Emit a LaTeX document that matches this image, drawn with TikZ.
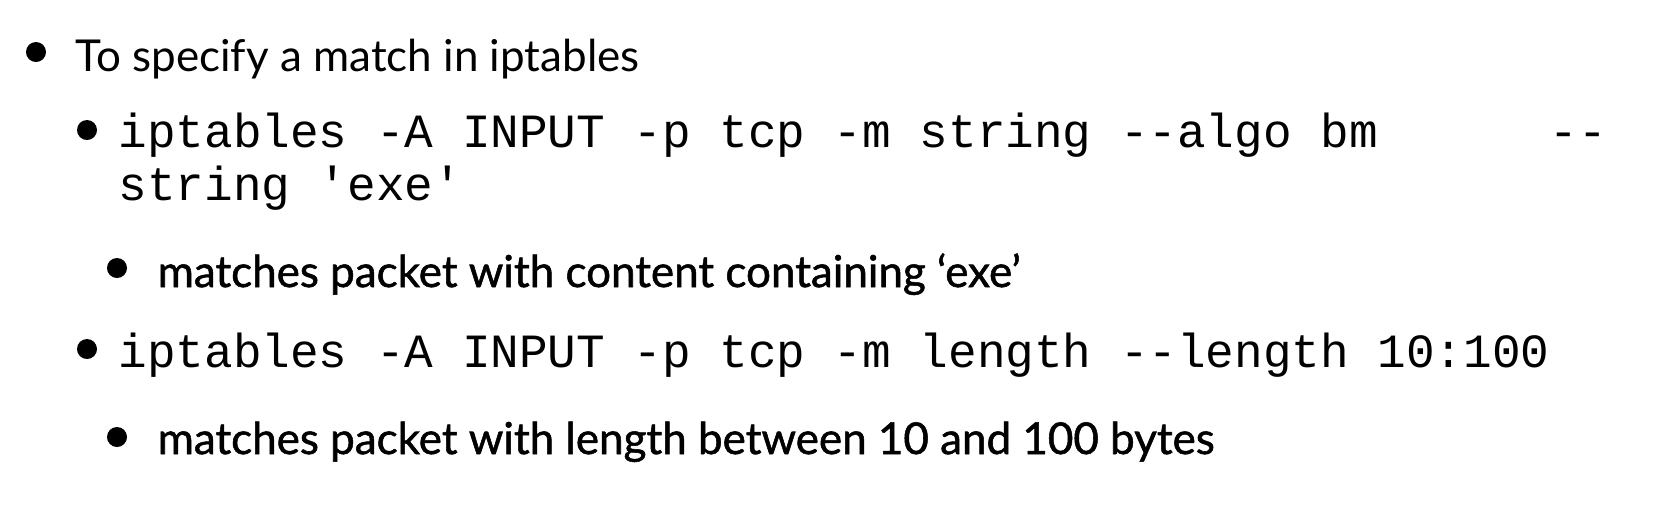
\documentclass[tikz,border=0pt]{standalone}
\usepackage{fontspec}
\setmainfont{Lato}
\setmonofont{Liberation Mono}
\newfontfamily\notefont[FakeBold=1.2]{Lato}
\begin{document}
\begin{tikzpicture}[x=0.01cm, y=-0.01cm,
  dot/.style={circle, fill=black, inner sep=0pt, minimum size=0.2cm},
  head/.style={anchor=base west, inner sep=0pt, font=\fontsize{12.5}{15}\selectfont},
  code/.style={anchor=base west, inner sep=0pt, font=\fontsize{13.56}{16}\selectfont\ttfamily},
  note/.style={anchor=base west, inner sep=0pt, font=\fontsize{12.5}{15}\notefont}]
			\useasboundingbox (0,0) rectangle (1674,514);
			\node[dot] (b1) at (36,52) {};
			\node[head] (t1) at (75,71) {To specify a match in iptables};
			\node[dot] (b2) at (87,130) {};
			\node[code] (t2) at (118,147) {iptables -A INPUT -p tcp -m string -{}-algo bm\ \ \ \ \ \ -{}-};
			\node[code] (t3) at (118,200) {string 'exe'};
			\node[dot] (b3) at (117,268) {};
			\node[note] (t4) at (157,287) {matches packet with content containing ‘exe’};
			\node[dot] (b4) at (87,349) {};
			\node[code] (t5) at (118,367) {iptables -A INPUT -p tcp -m length -{}-length 10:100};
			\node[dot] (b5) at (117,437) {};
			\node[note] (t6) at (157,454) {matches packet with length between 10 and 100 bytes};
\end{tikzpicture}
\end{document}
